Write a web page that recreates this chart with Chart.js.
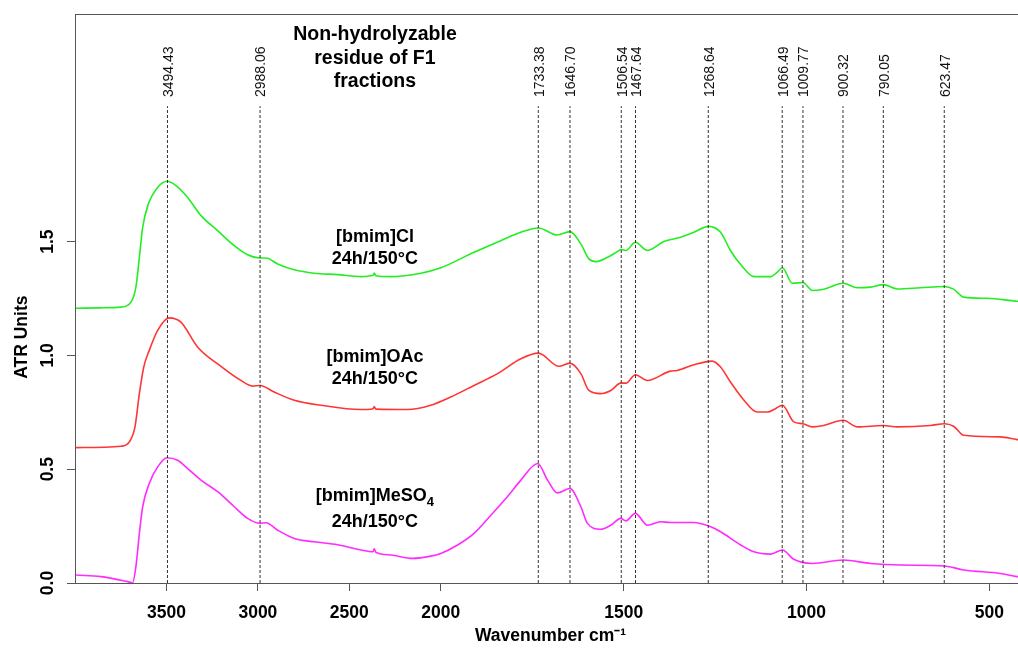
<!DOCTYPE html>
<html>
<head>
<meta charset="utf-8">
<script src="https://cdn.jsdelivr.net/npm/chart.js@4"></script>
<style>
  html, body { margin: 0; padding: 0; background: #fff; overflow: hidden; }
  #wrap { width: 1018px; height: 651px; overflow: hidden; position: relative; }
  #wrap canvas { position: absolute; left: 0; top: 0; }
</style>
</head>
<body>
<div id="wrap"><canvas id="ftir" width="1030" height="651"></canvas></div>
<script>
// wavenumber ticks and peak marks
const xTicks = [3500, 3000, 2500, 2000, 1500, 1000, 500];
const yTicks = [0, 0.5, 1.0, 1.5];
const peaks = [3494.43, 2988.06, 1733.38, 1646.70, 1506.54, 1467.64, 1268.64, 1066.49, 1009.77, 900.32, 790.05, 623.47];

// [bmim]Cl
const clX = [3994, 3858, 3748, 3694, 3667, 3648, 3630, 3599, 3548, 3497, 3448, 3384, 3311, 3220, 3129, 3056, 2988, 2956, 2892, 2801, 2692, 2564, 2437, 2370, 2364, 2355, 2273, 2109, 2000, 1909, 1836, 1781, 1733, 1682, 1647, 1617, 1595, 1576, 1544, 1517, 1507, 1494, 1468, 1435, 1390, 1344, 1308, 1268, 1235, 1208, 1180, 1144, 1098, 1080, 1066, 1039, 1010, 984, 953, 900, 861, 825, 790, 752, 689, 623, 598, 570, 506, 424, 400];
const clY = [1.207, 1.209, 1.212, 1.234, 1.300, 1.431, 1.563, 1.665, 1.738, 1.765, 1.746, 1.694, 1.614, 1.548, 1.482, 1.442, 1.428, 1.428, 1.402, 1.376, 1.361, 1.355, 1.346, 1.352, 1.362, 1.350, 1.346, 1.361, 1.385, 1.453, 1.504, 1.541, 1.560, 1.529, 1.544, 1.490, 1.424, 1.412, 1.431, 1.456, 1.465, 1.461, 1.497, 1.461, 1.500, 1.519, 1.541, 1.567, 1.541, 1.461, 1.399, 1.346, 1.346, 1.366, 1.385, 1.317, 1.320, 1.285, 1.291, 1.317, 1.297, 1.300, 1.311, 1.292, 1.297, 1.303, 1.291, 1.256, 1.251, 1.238, 1.236];

// [bmim]OAc
const oacX = [3994, 3748, 3703, 3672, 3648, 3624, 3594, 3548, 3485, 3421, 3329, 3202, 3093, 3029, 2988, 2911, 2801, 2656, 2437, 2370, 2364, 2355, 2182, 2055, 1973, 1909, 1845, 1781, 1733, 1677, 1647, 1617, 1595, 1563, 1535, 1508, 1494, 1468, 1435, 1372, 1353, 1308, 1258, 1235, 1208, 1171, 1135, 1107, 1085, 1066, 1035, 1010, 984, 953, 900, 861, 790, 752, 661, 623, 598, 570, 470, 424, 400];
const oacY = [0.595, 0.601, 0.620, 0.686, 0.832, 0.949, 1.022, 1.110, 1.165, 1.146, 1.036, 0.952, 0.890, 0.865, 0.868, 0.839, 0.803, 0.781, 0.762, 0.766, 0.775, 0.764, 0.762, 0.781, 0.817, 0.868, 0.920, 0.985, 1.010, 0.952, 0.966, 0.920, 0.846, 0.832, 0.846, 0.878, 0.878, 0.915, 0.890, 0.931, 0.934, 0.959, 0.975, 0.949, 0.883, 0.803, 0.751, 0.751, 0.766, 0.781, 0.708, 0.700, 0.686, 0.692, 0.715, 0.686, 0.692, 0.686, 0.692, 0.700, 0.689, 0.649, 0.642, 0.630, 0.628];

// [bmim]MeSO4
const mesX = [3994, 3858, 3712, 3685, 3667, 3648, 3630, 3594, 3548, 3497, 3439, 3384, 3311, 3220, 3129, 3056, 2988, 2956, 2892, 2801, 2692, 2564, 2437, 2370, 2364, 2355, 2273, 2155, 2055, 2000, 1954, 1909, 1863, 1818, 1781, 1735, 1708, 1681, 1647, 1617, 1599, 1563, 1535, 1508, 1494, 1468, 1435, 1399, 1372, 1308, 1267, 1235, 1180, 1144, 1098, 1066, 1035, 984, 900, 825, 743, 623, 570, 470, 424, 400];
const mesY = [0.035, 0.028, 0.006, 0.001, 0.072, 0.218, 0.335, 0.437, 0.510, 0.550, 0.539, 0.503, 0.452, 0.401, 0.335, 0.284, 0.262, 0.265, 0.232, 0.196, 0.181, 0.168, 0.145, 0.137, 0.150, 0.135, 0.123, 0.108, 0.118, 0.130, 0.167, 0.218, 0.298, 0.379, 0.452, 0.525, 0.452, 0.396, 0.415, 0.335, 0.262, 0.236, 0.254, 0.284, 0.273, 0.306, 0.254, 0.269, 0.266, 0.266, 0.250, 0.225, 0.167, 0.137, 0.127, 0.145, 0.104, 0.086, 0.101, 0.086, 0.079, 0.075, 0.057, 0.042, 0.028, 0.026];

const FONT = "'Liberation Sans', Arial, sans-serif";

// axis is squeezed by half above 2000 cm-1, like the instrument software does
function warp(v) { return v <= 2000 ? v : 2000 + (v - 2000) / 2; }
function unwarp(t) { return t <= 2000 ? t : 2000 + (t - 2000) * 2; }

class FtirScale extends Chart.LinearScale {
    getPixelForValue(value) {
        if (value === null || isNaN(value)) return NaN;
        const a = warp(this.min), b = warp(this.max);
        return this.getPixelForDecimal((warp(value) - a) / (b - a));
    }
    getValueForPixel(pixel) {
        const a = warp(this.min), b = warp(this.max);
        return unwarp(a + this.getDecimalForPixel(pixel) * (b - a));
    }
}
FtirScale.id = 'ftir';
FtirScale.defaults = Chart.LinearScale.defaults;
Chart.register(FtirScale);

function pts(xs, ys) {
    return xs.map((x, i) => ({ x: x, y: ys[i] }));
}

const spectra = [
    { label: '[bmim]Cl', data: pts(clX, clY), color: '#22ee22' },
    { label: '[bmim]OAc', data: pts(oacX, oacY), color: '#ff3535' },
    { label: '[bmim]MeSO4', data: pts(mesX, mesY), color: '#ff2bff' }
];

const datasets = [];
peaks.forEach(p => {
    datasets.push({
        data: [{ x: p, y: 0 }, { x: p, y: 2.095 }],
        borderColor: '#3a2e2e',
        borderWidth: 1,
        borderDash: [3, 2],
        pointRadius: 0,
        tension: 0
    });
});
spectra.forEach(s => {
    datasets.push({
        label: s.label,
        data: s.data,
        borderColor: s.color,
        borderWidth: 1.6,
        pointRadius: 0,
        cubicInterpolationMode: 'monotone'
    });
});

// texts, frame, y labels
const annotations = {
    id: 'annotations',
    afterDraw(chart) {
        const ctx = chart.ctx;
        const xs = chart.scales.x, ys = chart.scales.y;
        const area = chart.chartArea;
        ctx.save();

        // frame
        ctx.strokeStyle = '#555';
        ctx.lineWidth = 1;
        ctx.strokeRect(Math.round(area.left) + 0.5, Math.round(area.top) + 0.5,
            Math.round(area.right - area.left), Math.round(area.bottom - area.top));

        // y tick labels, rotated like the original
        ctx.fillStyle = '#000';
        ctx.font = 'bold 17.5px ' + FONT;
        ctx.textAlign = 'center';
        ctx.textBaseline = 'middle';
        ys.ticks.forEach(t => {
            ctx.save();
            ctx.translate(48, ys.getPixelForValue(t.value));
            ctx.rotate(-Math.PI / 2);
            ctx.fillText(t.value.toFixed(1), 0, 0);
            ctx.restore();
        });

        // y title
        ctx.save();
        ctx.translate(22, ys.getPixelForValue(1.08));
        ctx.rotate(-Math.PI / 2);
        ctx.fillText('ATR Units', 0, 0);
        ctx.restore();

        // peak labels
        ctx.font = '14px ' + FONT;
        ctx.fillStyle = '#111';
        ctx.textAlign = 'left';
        peaks.forEach(p => {
            ctx.save();
            ctx.translate(xs.getPixelForValue(p) + 1.5, 97);
            ctx.rotate(-Math.PI / 2);
            ctx.fillText(p.toFixed(2), 0, 0);
            ctx.restore();
        });

        // sample captions
        ctx.fillStyle = '#000';
        ctx.textAlign = 'center';
        const cx = xs.getPixelForValue(2360);
        ctx.font = 'bold 19.5px ' + FONT;
        ['Non-hydrolyzable', 'residue of F1', 'fractions'].forEach((s, i) => {
            ctx.fillText(s, cx, 35 + i * 23.5);
        });
        ctx.font = 'bold 18px ' + FONT;
        ctx.fillText('[bmim]Cl', cx, ys.getPixelForValue(1.522));
        ctx.fillText('24h/150°C', cx, ys.getPixelForValue(1.425));
        ctx.fillText('[bmim]OAc', cx, ys.getPixelForValue(0.991));
        ctx.fillText('24h/150°C', cx, ys.getPixelForValue(0.895));
        ctx.fillText('24h/150°C', cx, ys.getPixelForValue(0.268));

        // MeSO4 with subscript
        const main = '[bmim]MeSO';
        const wMain = ctx.measureText(main).width;
        ctx.font = 'bold 13px ' + FONT;
        const wSub = ctx.measureText('4').width;
        const left = cx - (wMain + wSub) / 2;
        const yMes = ys.getPixelForValue(0.380);
        ctx.textAlign = 'left';
        ctx.font = 'bold 18px ' + FONT;
        ctx.fillText(main, left, yMes);
        ctx.font = 'bold 13px ' + FONT;
        ctx.fillText('4', left + wMain, yMes + 6);

        ctx.restore();
    }
};

new Chart(document.getElementById('ftir').getContext('2d'), {
    type: 'line',
    data: { datasets: datasets },
    options: {
        responsive: false,
        animation: false,
        events: [],
        layout: { padding: { top: 14, right: 4, left: 0, bottom: 0 } },
        plugins: { legend: { display: false }, tooltip: { enabled: false } },
        scales: {
            x: {
                type: 'ftir',
                min: 400,
                max: 4000,
                reverse: true,
                afterBuildTicks: s => { s.ticks = xTicks.map(v => ({ value: v })); },
                afterFit: s => { s.height = 68; },
                ticks: {
                    color: '#000',
                    padding: 12,
                    maxRotation: 0,
                    font: { family: FONT, size: 17.5, weight: 'bold' },
                    callback: v => String(v)
                },
                grid: { drawOnChartArea: false, color: '#555', tickLength: 8 },
                border: { display: false },
                title: {
                    display: true,
                    text: 'Wavenumber cm⁻¹',
                    color: '#000',
                    font: { family: FONT, size: 17.5, weight: 'bold' },
                    padding: { top: 0, bottom: 4 }
                }
            },
            y: {
                type: 'linear',
                min: 0,
                max: 2.5,
                afterBuildTicks: s => { s.ticks = yTicks.map(v => ({ value: v })); },
                afterFit: s => { s.width = 75; },
                ticks: { display: false },
                grid: { drawOnChartArea: false, color: '#555', tickLength: 8 },
                border: { display: false }
            }
        }
    },
    plugins: [annotations]
});
</script>
</body>
</html>
